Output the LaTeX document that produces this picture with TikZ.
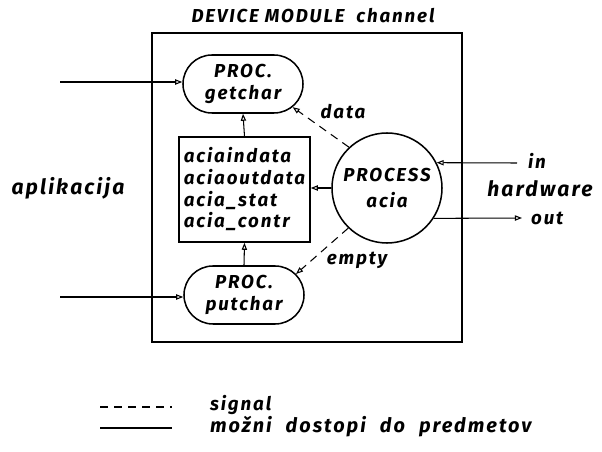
\documentclass[tikz,border=0pt]{standalone}
\usepackage{fontspec}
\setmainfont{Fira Sans}
\newfontfamily\hand[LetterSpace=10]{Fira Sans}
\usetikzlibrary{arrows.meta,shapes.misc}
\begin{document}
\begin{tikzpicture}[x=0.03cm,y=-0.03cm,
  every node/.style={font=\hand\bfseries\itshape\fontsize{16}{19}\selectfont},
  frame/.style={draw,line width=1.6pt,inner sep=0pt},
  procbox/.style={draw,line width=1.3pt,rounded rectangle,minimum width=3.6cm,minimum height=1.74cm,align=center,inner sep=0pt},
  databox/.style={draw,line width=1.3pt,minimum width=3.93cm,minimum height=3.15cm,align=left,inner sep=0pt,
    font=\hand\bfseries\itshape\fontsize{16}{18.5}\selectfont},
  procc/.style={draw,line width=1.3pt,circle,minimum size=3.3cm,align=center,inner sep=0pt},
  lbl/.style={},
  biglbl/.style={font=\hand\bfseries\itshape\fontsize{18}{21}\selectfont},
  tip/.style={-{Triangle[open,length=6pt,width=4.5pt]}},
  access/.style={tip,line width=0.9pt},
  signal/.style={tip,line width=0.9pt,dash pattern=on 7pt off 5pt}]
\useasboundingbox (0,0) rectangle (602,452);

% title and module frame
\node[lbl] (title) at (313,16) {DEVICE MODULE\hspace{10pt}channel};
\node[frame,minimum width=9.3cm,minimum height=9.27cm] (frame) at (307,187.5) {};

% processes and shared objects
\node[procbox] (getchar) at (243,84) {PROC.\\getchar};
\node[procbox] (putchar) at (244,295) {PROC.\\putchar};
\node[databox] (objs) at (244.5,189.5) {aciaindata\\aciaoutdata\\acia\_stat\\acia\_contr};
\node[procc] (acia) at (387,188) {PROCESS\\[4pt]acia};

% outside labels
\node[biglbl] (apl) at (68,188) {aplikacija};
\node[lbl] (inl) at (537,161) {in};
\node[biglbl] (hw) at (540,189) {hardware};
\node[lbl,anchor=west] (outl) at (527,218) {out};

% calls from the application
\coordinate (gin) at (60,82);
\coordinate (pin) at (60,297);
\draw[access] (gin) -- (gin -| getchar.west);
\draw[access] (pin) -- (pin -| putchar.west);

% accesses to the shared objects
\draw[access] (objs.north) -- (getchar.south);
\draw[access] (putchar.north) -- (objs.south);
\draw[access] (acia.west) -- (acia.west -| objs.east);

% signals
\draw[signal] (acia.133) -- (getchar.-25);
\node[lbl] (datal) at (343,112) {data};
\draw[signal] (acia.226) -- (putchar.22);
\node[lbl] (emptyl) at (357,260) {empty};

% hardware side
\coordinate (hin) at (517,163);
\coordinate (hout) at (522,218);
\draw[access] (hin) -- (acia.27);
\draw[access] (acia.-33) -- (hout);

% legend
\coordinate (s1) at (100,407);
\coordinate (s2) at (172,407);
\coordinate (a1) at (100,428);
\coordinate (a2) at (172,428);
\draw[line width=0.9pt,dash pattern=on 7pt off 5pt] (s1) -- (s2);
\draw[line width=0.9pt] (a1) -- (a2);
\node[lbl,anchor=west] (lsig) at (206,405) {signal};
\node[lbl,anchor=west,font=\hand\bfseries\itshape\fontsize{17}{20}\selectfont] (lacc) at (206,427) {možni\hspace{12pt}dostopi\hspace{12pt}do\hspace{12pt}predmetov};
\end{tikzpicture}
\end{document}
